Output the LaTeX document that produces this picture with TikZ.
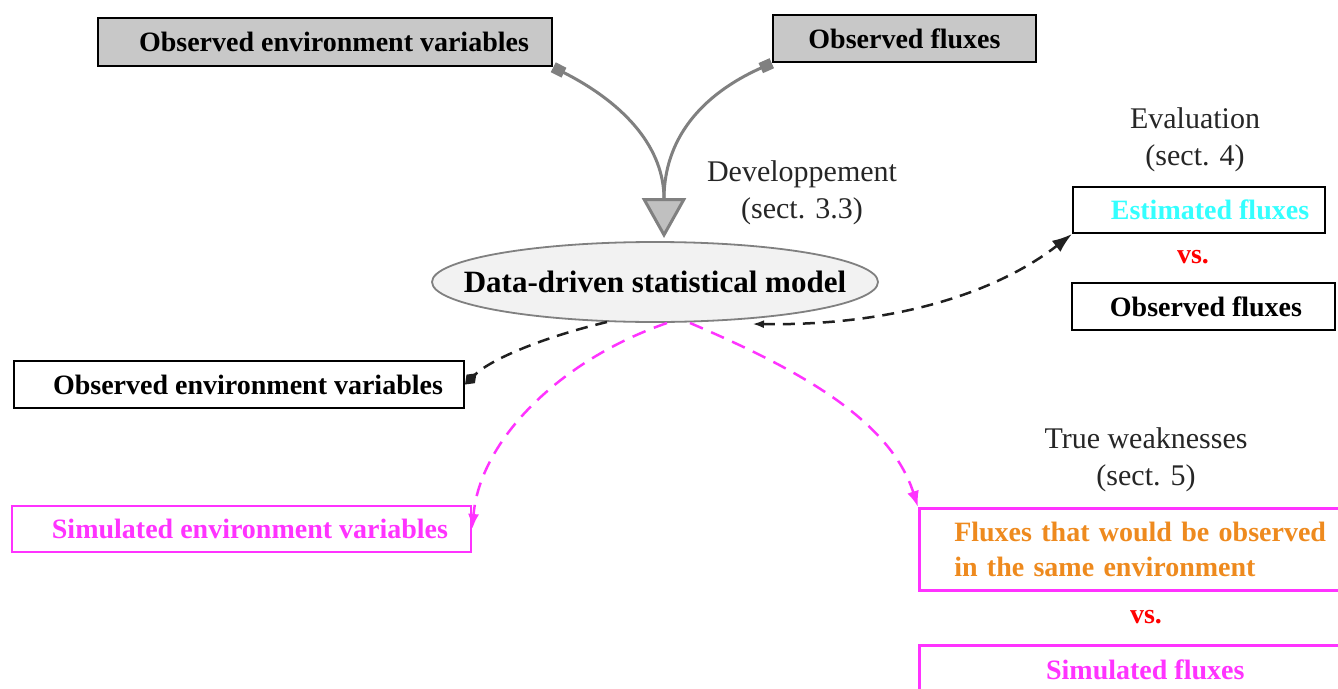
\documentclass[tikz,border=0pt]{standalone}
\usepackage{fontspec}
\setmainfont{Liberation Serif}
\usetikzlibrary{arrows.meta,shapes.geometric}
\definecolor{mag}{HTML}{FF33FF}
\definecolor{org}{HTML}{EE8A1E}
\definecolor{cya}{HTML}{33FFFF}
\definecolor{gbox}{HTML}{C8C8C8}
\definecolor{gline}{HTML}{808080}
\definecolor{tri}{HTML}{C0C0C0}
\definecolor{ell}{HTML}{F2F2F2}
\definecolor{dk}{HTML}{202020}
\begin{document}
\begin{tikzpicture}[x=1pt,y=-1pt,
  bx/.style={draw=black, line width=2pt, inner sep=0pt, font=\fontsize{28}{35}\selectfont\bfseries},
  lbl/.style={align=center, inner sep=0pt, font=\fontsize{30}{37}\selectfont, text=black!85},
  vsl/.style={inner sep=0pt, text=red, font=\fontsize{28}{35}\selectfont\bfseries},
  gcurve/.style={draw=gline, line width=3pt},
  dkdash/.style={draw=dk, line width=2.5pt, dash pattern=on 12pt off 8pt},
  magdash/.style={draw=mag, line width=2.5pt, dash pattern=on 14pt off 9pt}]
\useasboundingbox (0,0) rectangle (1338,688);
\clip (0,0) rectangle (1338,688);
\fill[white] (0,0) rectangle (1338,688);

\node[bx, fill=gbox, line width=2.5pt, minimum width=454, minimum height=48] (oev) at (325,42) {\hspace*{18pt}Observed environment variables};
\node[bx, fill=gbox, line width=2.5pt, minimum width=263, minimum height=47] (ofx) at (904.5,38.5) {Observed fluxes};
\node[ellipse, draw=gline, line width=1.8pt, fill=ell, minimum width=446, minimum height=80, inner sep=0pt] (model) at (655,282) {};
\node[inner sep=0pt, font=\fontsize{31}{37}\selectfont\bfseries] (modeltxt) at (model.center) {Data-driven statistical model};
\node[lbl] (dev) at (802,193) {Developpement\\(sect. 3.3)};
\node[lbl] (eva) at (1195,140) {Evaluation\\(sect. 4)};
\node[bx, minimum width=252, minimum height=46, text=cya] (est) at (1199,210) {\hspace*{22pt}Estimated fluxes};
\node[vsl] (vs1) at (1193,257) {vs.};
\node[bx, minimum width=263, minimum height=47] (ofx2) at (1203.5,306.5) {\hspace*{5pt}Observed fluxes};
\node[bx, minimum width=450, minimum height=47] (oev2) at (239,384.5) {\hspace*{18pt}Observed environment variables};
\node[lbl] (tw) at (1146,460) {True weaknesses\\(sect. 5)};
\node[bx, draw=mag, text=mag, line width=2.5pt, minimum width=459, minimum height=46] (sev) at (241.5,529) {\hspace*{17pt}Simulated environment variables};
\node[bx, draw=mag, text=org, line width=2.5pt, anchor=north west, text width=400pt, inner xsep=35pt, minimum height=82, align=left] (fx) at (918,507) {Fluxes that would be observed\\in the same environment};
\node[vsl] (vs2) at (1146,617) {vs.};
\node[bx, draw=mag, text=mag, line width=2.5pt, anchor=north west, minimum width=470, minimum height=50] (sfx) at (918,644) {Simulated fluxes\hspace*{18pt}};

\coordinate (tip) at (664,238);
\coordinate (base) at (664,199);
\draw[gcurve, {Square[length=12pt,width=11pt,fill=gline]}-{Triangle[length=40pt,width=44pt,fill=tri]}] (oev.south east) .. controls (628,105) and (664,150) .. (tip);
\draw[gcurve, {Square[length=12pt,width=11pt,fill=gline]}-] (ofx.south west) .. controls (700,95) and (664,140) .. (base);

\coordinate (s1) at (752,324);
\coordinate (s2) at (607,322);
\coordinate (s3) at (667,323);
\coordinate (s4) at (690,323);
\draw[dkdash, {Latex[length=12pt,width=8pt,fill=dk]}-{Latex[length=20pt,width=14pt,fill=dk]}] (s1) .. controls (900,326) and (1000,290) .. (est.south west);
\draw[dkdash, -{Diamond[length=16pt,width=12pt,fill=dk]}] (s2) .. controls (540,338) and (490,360) .. (oev2.east);
\draw[magdash, -{Latex[length=15pt,width=11pt,fill=mag]}] (s3) .. controls (560,360) and (480,440) .. (sev.east);
\draw[magdash, -{Latex[length=16pt,width=12pt,fill=mag]}] (s4) .. controls (800,370) and (890,420) .. (fx.north west);
\end{tikzpicture}
\end{document}
